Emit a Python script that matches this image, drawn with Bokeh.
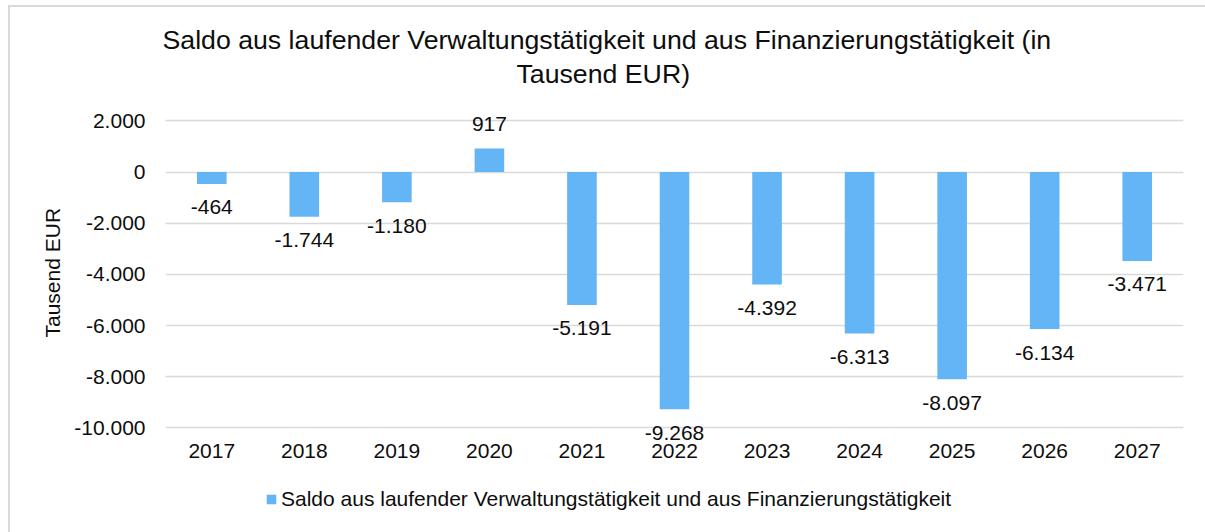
from bokeh.plotting import figure
from bokeh.models import (ColumnDataSource, Range1d, FactorRange, FixedTicker,
                          LabelSet, Legend, LegendItem, Title)
from bokeh.core.properties import field, value
from bokeh.embed import file_html
from bokeh.resources import INLINE

# ---- data ----
years = ["2017", "2018", "2019", "2020", "2021", "2022", "2023", "2024", "2025", "2026", "2027"]
values = [-464, -1744, -1180, 917, -5191, -9268, -4392, -6313, -8097, -6134, -3471]
series_name = "Saldo aus laufender Verwaltungstätigkeit und aus Finanzierungstätigkeit"
title_lines = ["Saldo aus laufender Verwaltungstätigkeit und aus Finanzierungstätigkeit  (in",
               "Tausend EUR)"]
y_ticks = [-10000, -8000, -6000, -4000, -2000, 0, 2000]
y_tick_labels = ["-10.000", "-8.000", "-6.000", "-4.000", "-2.000", "0", "2.000"]
y_axis_label = "Tausend EUR"


def de(v):
    return f"{v:,}".replace(",", ".")


FONT = "Liberation Sans"
TXT = "#0D0D0D"
BAR = "#64B5F6"
GRID = "#D9D9D9"

src = ColumnDataSource(dict(
    year=years,
    value=values,
    label=[de(v) for v in values],
    off=[17.5 if v >= 0 else -16.5 for v in values],
    base=["bottom" if v >= 0 else "top" for v in values],
))

p = figure(width=1197, height=527,
           x_range=FactorRange(*years), y_range=Range1d(-13890, 3110),
           output_backend="svg", toolbar_location=None,
           min_border_left=157, min_border_right=22,
           min_border_top=87, min_border_bottom=5)
p.title = None
p.border_fill_color = None
p.background_fill_color = None
p.outline_line_color = None
p.styles = {"margin-left": "8px", "margin-top": "5px", "background-color": "white",
            "box-shadow": "inset 2px 2px 0 #D9D9D9"}

# titles (first added is closest to frame)
p.add_layout(Title(text=title_lines[1], align="left", offset=351, standoff=4,
                   vertical_align="top",
                   text_font=FONT, text_font_size="26.7px", text_font_style="normal",
                   text_color=TXT), "above")
p.add_layout(Title(text=title_lines[0], align="left", offset=-3, standoff=0,
                   vertical_align="top",
                   text_font=FONT, text_font_size="26.7px", text_font_style="normal",
                   text_color=TXT), "above")

r = p.vbar(x="year", top="value", bottom=0, width=0.32, source=src,
           fill_color=BAR, line_color=None)

p.add_layout(LabelSet(x="year", y="value", text="label", source=src,
                      y_offset=field("off"), text_baseline=field("base"),
                      text_align="center", text_font=value(FONT),
                      text_font_size="21px", text_color=TXT))

# axes
for ax in (p.xaxis[0], p.yaxis[0]):
    ax.axis_line_color = None
    ax.major_tick_line_color = None
    ax.minor_tick_line_color = None
    ax.major_tick_out = 0
    ax.major_tick_in = 0
    ax.major_label_text_font = FONT
    ax.major_label_text_font_size = "21px"
    ax.major_label_text_color = TXT

p.xaxis.fixed_location = -11583
p.xaxis.major_label_standoff = -24
p.yaxis.major_label_standoff = 20
p.yaxis.ticker = FixedTicker(ticks=y_ticks)
p.yaxis.major_label_overrides = dict(zip(y_ticks, y_tick_labels))

# y axis title (rotated, in the left panel)
p.add_layout(Title(text=y_axis_label, align="left", offset=190, standoff=15,
                   vertical_align="bottom",
                   text_font=FONT, text_font_size="21px", text_font_style="normal",
                   text_color=TXT), "left")

p.xgrid.visible = False
p.ygrid.grid_line_color = GRID
p.ygrid.grid_line_width = 1.5

legend = Legend(items=[LegendItem(label=series_name, renderers=[r])],
                location=(100, 16), orientation="horizontal",
                glyph_width=12, glyph_height=12, label_standoff=4,
                label_text_font=FONT, label_text_font_size="21px",
                label_text_color=TXT, padding=0, margin=0, spacing=0,
                border_line_color=None, background_fill_alpha=0)
p.add_layout(legend, "center")

open("out.html", "w").write(file_html(p, INLINE))
